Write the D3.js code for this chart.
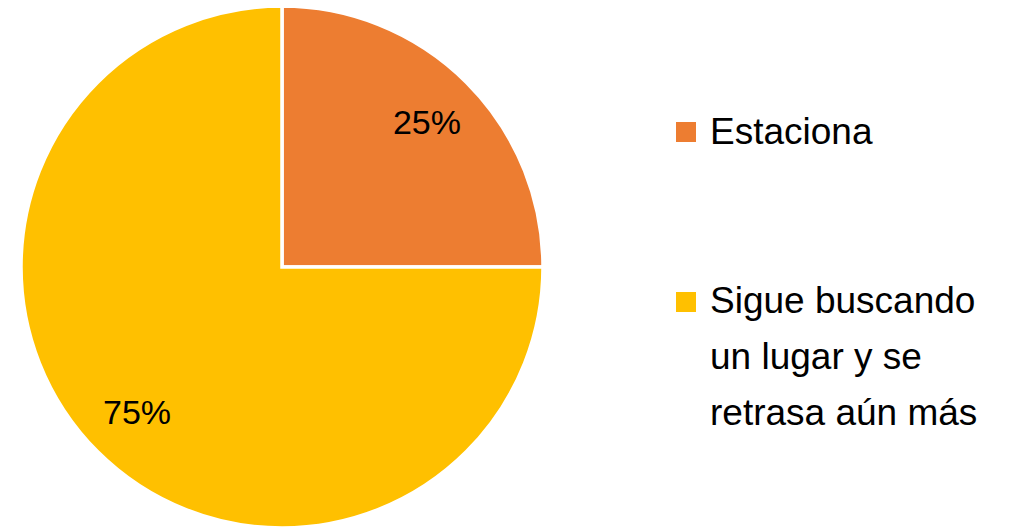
<!DOCTYPE html>
<html><head><meta charset="utf-8">
<script src="https://cdn.jsdelivr.net/npm/d3@7"></script>
<style>html,body{margin:0;padding:0;background:#fff;}svg{display:block;}</style>
</head><body>
<svg id="chart" width="1015" height="529"></svg>
<script>
const categories = ["Estaciona", "Sigue buscando un lugar y se retrasa aún más"];
const values = [25, 75];
const labels = ["25%", "75%"];
const legendLines = [["Estaciona"], ["Sigue buscando", "un lugar y se", "retrasa aún más"]];
const colors = ["#ED7D31", "#FFC000"];

const svg = d3.select("#chart");
const cx = 282, cy = 267, r = 261;
const g = svg.append("g").attr("transform", `translate(${cx},${cy})`);
const pie = d3.pie().sort(null).value(d => d)(values);
const arc = d3.arc().innerRadius(0).outerRadius(r);
const labelArc = d3.arc().innerRadius(205).outerRadius(205);

g.selectAll("path").data(pie).join("path")
  .attr("d", arc)
  .attr("fill", (d, i) => colors[i])
  .attr("stroke", "#fff").attr("stroke-width", 3.5).attr("stroke-linejoin", "miter");

g.selectAll("text.pct").data(pie).join("text")
  .attr("class", "pct")
  .attr("transform", d => `translate(${labelArc.centroid(d)})`)
  .attr("text-anchor", "middle").attr("dy", "0.35em")
  .style("font-family", "'Liberation Sans', Arial, sans-serif")
  .style("font-size", "34px").attr("fill", "#000")
  .text((d, i) => labels[i]);

const leg = svg.append("g");
const legTops = [122, 292];
const baselines = [144, 313];
categories.forEach((c, i) => {
  leg.append("rect").attr("x", 676).attr("y", legTops[i]).attr("width", 20).attr("height", 20).attr("fill", colors[i]);
  const t = leg.append("text").attr("x", 710).attr("y", baselines[i])
    .style("font-family", "'Liberation Sans', Arial, sans-serif")
    .style("font-size", "37px").attr("fill", "#000");
  legendLines[i].forEach((ln, j) => {
    t.append("tspan").attr("x", 710).attr("y", baselines[i] + j * 56).text(ln);
  });
});
</script>
</body></html>
